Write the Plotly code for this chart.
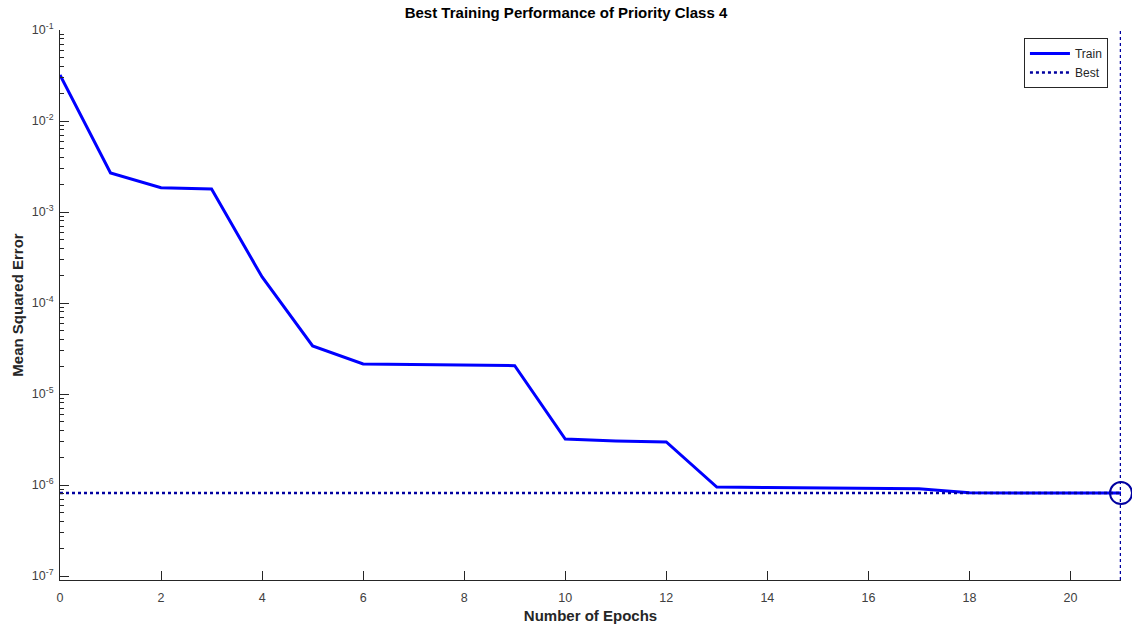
import plotly.graph_objects as go
import numpy as np

epochs = list(range(0, 22))
train_mse = [3.2e-2, 2.69e-3, 1.85e-3, 1.79e-3, 1.93e-4, 3.37e-5, 2.14e-5, 2.11e-5,
             2.09e-5, 2.05e-5, 3.2e-6, 3.05e-6, 2.97e-6, 9.5e-7, 9.4e-7, 9.3e-7,
             9.1e-7, 9.1e-7, 8.2e-7, 8.15e-7, 8.15e-7, 8.15e-7]
best_epoch = 21
best_mse = 8.15e-7

y_tickvals = [1e-7, 1e-6, 1e-5, 1e-4, 1e-3, 1e-2, 1e-1]
y_ticktext = ["10<sup>-7</sup>", "10<sup>-6</sup>", "10<sup>-5</sup>", "10<sup>-4</sup>",
              "10<sup>-3</sup>", "10<sup>-2</sup>", "10<sup>-1</sup>"]
x_tickvals = list(range(0, 21, 2))

ylo = 10 ** (-7.044)
yhi = 1e-1
minor_vals = [m * 10.0 ** e for e in range(-7, -1) for m in range(2, 10)]

fig = go.Figure()
fig.add_trace(go.Scatter(x=epochs, y=train_mse, mode="lines", name="Train",
                         line=dict(color="#0000FF", width=3)))
fig.add_trace(go.Scatter(x=[0, best_epoch, None, best_epoch, best_epoch],
                         y=[best_mse, best_mse, None, ylo, yhi], mode="lines", name="Best",
                         line=dict(color="#0000A0", width=2.5, dash="dot")))
fig.add_trace(go.Scatter(x=[best_epoch], y=[best_mse], mode="markers", showlegend=False,
                         cliponaxis=False,
                         marker=dict(symbol="circle-open", size=22, color="#0000A0",
                                     line=dict(width=2, color="#0000A0"))))

axis_font = dict(family="Liberation Sans, Arial", size=12.5, color="#404040")
title_font = dict(family="Liberation Sans, Arial", size=15, color="#262626")
fig.update_layout(
    width=1132, height=632,
    margin=dict(l=60, r=11, t=30, b=52),
    paper_bgcolor="white", plot_bgcolor="white",
    title=dict(text="<b>Best Training Performance of Priority Class 4</b>", x=0.5,
               xanchor="center", y=0.988, yanchor="top",
               font=dict(family="Liberation Sans, Arial", size=15, color="#000000")),
    font=dict(family="Liberation Sans, Arial", size=12, color="#262626"),
    legend=dict(x=0.9877, y=0.9855, xanchor="right", yanchor="top",
                bgcolor="white", bordercolor="#262626", borderwidth=1,
                font=dict(family="Liberation Sans, Arial", size=12, color="#262626"),
                tracegroupgap=0, itemwidth=40),
    showlegend=True,
)
fig.update_xaxes(range=[0, 21], tickvals=x_tickvals, ticks="inside", ticklen=9,
                 tickcolor="#262626", showline=True, linecolor="#262626", linewidth=1,
                 showgrid=False, zeroline=False, tickfont=axis_font, ticklabelstandoff=6,
                 automargin=False,
                 title=dict(text="<b>Number of Epochs</b>", standoff=6, font=title_font))
fig.update_yaxes(type="log", range=[np.log10(ylo), -1], tickvals=y_tickvals, ticktext=y_ticktext,
                 ticks="inside", ticklen=9, tickcolor="#262626", showline=True,
                 linecolor="#262626", linewidth=1, showgrid=False, zeroline=False,
                 tickfont=axis_font, ticklabelstandoff=3, automargin=False,
                 minor=dict(tickvals=minor_vals, ticks="inside", ticklen=4, tickcolor="#262626",
                            showgrid=False),
                 title=dict(text="<b>Mean Squared Error</b>", standoff=4, font=title_font))

fig.write_html("out.html")
